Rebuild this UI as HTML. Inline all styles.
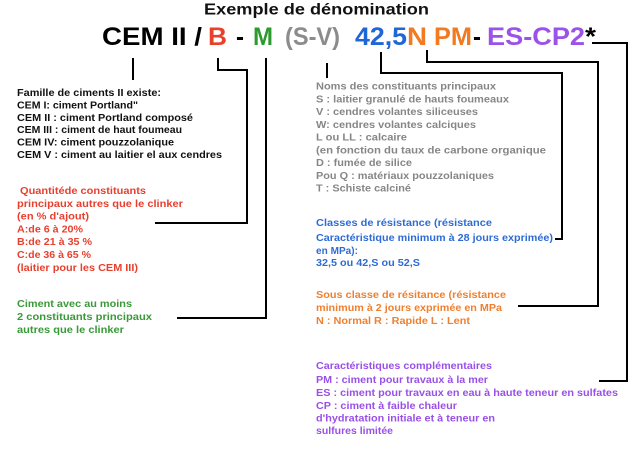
<!DOCTYPE html>
<html><head><meta charset="utf-8"><style>
html,body{margin:0;padding:0;background:#fff;}
svg{display:block;}
text{font-family:"Liberation Sans",Arial,sans-serif;font-weight:bold;}
.s{font-size:10px;}
</style></head><body>
<svg width="640" height="456" viewBox="0 0 640 456" xmlns="http://www.w3.org/2000/svg">
<rect width="640" height="456" fill="#fff"/>
<!-- title -->
<text x="204" y="14.5" font-size="16" fill="#111" textLength="225" lengthAdjust="spacingAndGlyphs">Exemple de dénomination</text>
<!-- main designation -->
<g font-size="25">
<text x="102" y="45" fill="#000" textLength="100" lengthAdjust="spacingAndGlyphs">CEM II /</text>
<text x="208" y="45" fill="#e8412a" textLength="19" lengthAdjust="spacingAndGlyphs">B</text>
<text x="236" y="45" fill="#000" textLength="8" lengthAdjust="spacingAndGlyphs">-</text>
<text x="253" y="45" fill="#2d9a2d" textLength="20" lengthAdjust="spacingAndGlyphs">M</text>
<text x="285" y="45" fill="#8c8c8c" textLength="55" lengthAdjust="spacingAndGlyphs">(S-V)</text>
<text x="355" y="45" fill="#1f66d6" textLength="52" lengthAdjust="spacingAndGlyphs">42,5</text>
<text x="407" y="45" fill="#f07b22" textLength="20" lengthAdjust="spacingAndGlyphs">N</text>
<text x="434" y="45" fill="#f07b22" textLength="38" lengthAdjust="spacingAndGlyphs">PM</text>
<text x="473" y="45" fill="#000" textLength="8" lengthAdjust="spacingAndGlyphs">-</text>
<text x="487" y="45" fill="#9b52e8" textLength="98" lengthAdjust="spacingAndGlyphs">ES-CP2</text>
<text x="585" y="45" fill="#000" textLength="11" lengthAdjust="spacingAndGlyphs">*</text>
</g>
<!-- connectors -->
<g fill="none" stroke="#000" stroke-width="2">
<path d="M133 58 V80"/>
<path d="M218 58 V70 H247 V223 H155"/>
<path d="M266 58 V318 H177"/>
<path d="M327 63 V78"/>
<path d="M381 52 V73 H562 V239 H555"/>
<path d="M427 50 V62 H598 V306 H518"/>
<path d="M592 43 H627 V381 H599"/>
</g>
<!-- Famille block -->
<g class="s" fill="#111">
<text x="17" y="96" textLength="144" lengthAdjust="spacingAndGlyphs">Famille de ciments II existe:</text>
<text x="17" y="108.4" textLength="121" lengthAdjust="spacingAndGlyphs">CEM I: ciment Portland"</text>
<text x="17" y="120.8" textLength="176" lengthAdjust="spacingAndGlyphs">CEM II : ciment Portland composé</text>
<text x="17" y="133.2" textLength="165" lengthAdjust="spacingAndGlyphs">CEM III : ciment de haut foumeau</text>
<text x="17" y="145.6" textLength="157" lengthAdjust="spacingAndGlyphs">CEM IV: ciment pouzzolanique</text>
<text x="17" y="158" textLength="205" lengthAdjust="spacingAndGlyphs">CEM V : ciment au laitier el aux cendres</text>
</g>
<!-- red block -->
<g class="s" fill="#e8402f">
<text x="20" y="194" textLength="126" lengthAdjust="spacingAndGlyphs">Quantitéde constituants</text>
<text x="17" y="206.8" textLength="166" lengthAdjust="spacingAndGlyphs">principaux autres que le clinker</text>
<text x="17" y="219.6" textLength="72" lengthAdjust="spacingAndGlyphs">(en % d'ajout)</text>
<text x="17" y="232.4" textLength="66" lengthAdjust="spacingAndGlyphs">A:de 6 à 20%</text>
<text x="17" y="245.2" textLength="75" lengthAdjust="spacingAndGlyphs">B:de 21 à 35 %</text>
<text x="17" y="258" textLength="74" lengthAdjust="spacingAndGlyphs">C:de 36 à 65 %</text>
<text x="17" y="270.8" textLength="121" lengthAdjust="spacingAndGlyphs">(laitier pour les CEM III)</text>
</g>
<!-- green block -->
<g class="s" fill="#3a9a3a">
<text x="17" y="307" textLength="115" lengthAdjust="spacingAndGlyphs">Ciment avec au moins</text>
<text x="17" y="320" textLength="135" lengthAdjust="spacingAndGlyphs">2 constituants principaux</text>
<text x="17" y="333" textLength="107" lengthAdjust="spacingAndGlyphs">autres que le clinker</text>
</g>
<!-- gray block -->
<g class="s" fill="#868686">
<text x="316" y="89.5" textLength="180" lengthAdjust="spacingAndGlyphs">Noms des constituants principaux</text>
<text x="316" y="102.3" textLength="193" lengthAdjust="spacingAndGlyphs">S : laitier granulé de hauts foumeaux</text>
<text x="316" y="115" textLength="162" lengthAdjust="spacingAndGlyphs">V : cendres volantes siliceuses</text>
<text x="316" y="127.8" textLength="160" lengthAdjust="spacingAndGlyphs">W: cendres volantes calciques</text>
<text x="316" y="140.5" textLength="91" lengthAdjust="spacingAndGlyphs">L ou LL : calcaire</text>
<text x="316" y="153.3" textLength="230" lengthAdjust="spacingAndGlyphs">(en fonction du taux de carbone organique</text>
<text x="316" y="166" textLength="96" lengthAdjust="spacingAndGlyphs">D : fumée de silice</text>
<text x="316" y="178.8" textLength="178" lengthAdjust="spacingAndGlyphs">Pou Q : matériaux pouzzolaniques</text>
<text x="316" y="191.5" textLength="95" lengthAdjust="spacingAndGlyphs">T : Schiste calciné</text>
</g>
<!-- blue block -->
<g class="s" fill="#2e6cd4">
<text x="316" y="226" textLength="176" lengthAdjust="spacingAndGlyphs">Classes de résistance (résistance</text>
<text x="316" y="241" textLength="237" lengthAdjust="spacingAndGlyphs">Caractéristique minimum à 28 jours exprimée)</text>
<text x="316" y="254" textLength="42" lengthAdjust="spacing">en MPa):</text>
<text x="316" y="266" textLength="104" lengthAdjust="spacingAndGlyphs">32,5 ou 42,S ou 52,S</text>
</g>
<!-- orange block -->
<g class="s" fill="#f07f2e">
<text x="316" y="298" textLength="190" lengthAdjust="spacingAndGlyphs">Sous classe de résitance (résistance</text>
<text x="316" y="311" textLength="186" lengthAdjust="spacingAndGlyphs">minimum à 2 jours exprimée en MPa</text>
<text x="316" y="324" textLength="154" lengthAdjust="spacingAndGlyphs">N : Normal R : Rapide L : Lent</text>
</g>
<!-- purple block -->
<g class="s" fill="#9a50e8">
<text x="316" y="369" textLength="176" lengthAdjust="spacingAndGlyphs">Caractéristiques complémentaires</text>
<text x="316" y="383" textLength="172" lengthAdjust="spacingAndGlyphs">PM : ciment pour travaux à la mer</text>
<text x="316" y="396" textLength="302" lengthAdjust="spacingAndGlyphs">ES : ciment pour travaux en eau à haute teneur en sulfates</text>
<text x="316" y="409" textLength="141" lengthAdjust="spacingAndGlyphs">CP : ciment à faible chaleur</text>
<text x="316" y="421.5" textLength="179" lengthAdjust="spacingAndGlyphs">d'hydratation initiale et à teneur en</text>
<text x="316" y="434" textLength="77" lengthAdjust="spacingAndGlyphs">sulfures limitée</text>
</g>
</svg>
</body></html>
